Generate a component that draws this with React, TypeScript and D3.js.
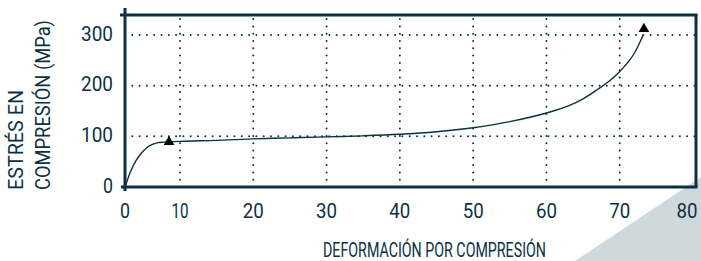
import React, { useRef, useEffect } from "react";
import * as d3 from "d3";

// strain (%) vs compressive stress (MPa)
const strain = [0, 0.5, 1, 2, 3, 4, 5, 6, 7, 8, 10, 15, 20, 25, 30, 35, 40, 45, 50, 55, 60, 63, 65, 67, 69, 70, 71, 72, 73.2];
const stress = [0, 16, 30, 52, 67, 78, 84, 87.5, 88.5, 89, 90, 92, 95, 97, 99, 101, 104, 109, 117, 129, 146, 160, 174, 193, 214, 228, 244, 264, 300];
const xTicks = [0, 10, 20, 30, 40, 50, 60, 70, 80];
const yTicks = [0, 100, 200, 300];
const xGrid = [10, 20, 30, 40, 50, 60, 70];
const yGrid = [100, 200, 300];
const arrowPts = [{ x: 8, y: 89 }, { x: 73.3, y: 312 }];

const ink = "#0c3142";
const font = "Roboto, 'Noto Sans', sans-serif";

const App: React.FC = () => {
  const svgRef = useRef<SVGSVGElement>(null);

  useEffect(() => {
    if (!svgRef.current) return;
    const svg = d3.select(svgRef.current);
    svg.selectAll("*").remove();

    // the axis is not linear between 0 and 10 in the source
    const x = d3.scaleLinear().domain([0, 10, 80]).range([125, 180, 693]);
    const y = d3.scaleLinear().domain([0, 300]).range([187, 35]);

    const left = 125, right = 696, top = 15, bottom = 187;

    // decorative corner
    svg.append("polygon").attr("points", "575,261 701,177 701,261").attr("fill", "#cfd8dc");

    // grid
    svg.append("g").selectAll("line").data(xGrid).join("line")
      .attr("x1", (d) => x(d)).attr("x2", (d) => x(d))
      .attr("y1", bottom).attr("y2", top)
      .attr("stroke", ink).attr("stroke-width", 2)
      .attr("stroke-linecap", "round").attr("stroke-dasharray", "0,7.3");
    svg.append("g").selectAll("line").data(yGrid).join("line")
      .attr("x1", left).attr("x2", right)
      .attr("y1", (d) => y(d)).attr("y2", (d) => y(d))
      .attr("stroke", ink).attr("stroke-width", 2)
      .attr("stroke-linecap", "round").attr("stroke-dasharray", "0,7.3");

    // frame
    svg.append("line").attr("x1", 120).attr("x2", right + 1.5).attr("y1", top).attr("y2", top)
      .attr("stroke", ink).attr("stroke-width", 3);
    svg.append("line").attr("x1", right).attr("x2", right).attr("y1", top).attr("y2", bottom)
      .attr("stroke", ink).attr("stroke-width", 3);
    svg.append("line").attr("x1", 121).attr("x2", right + 1.5).attr("y1", bottom).attr("y2", bottom)
      .attr("stroke", ink).attr("stroke-width", 3);
    svg.append("line").attr("x1", left).attr("x2", left).attr("y1", 8).attr("y2", 191)
      .attr("stroke", ink).attr("stroke-width", 3);

    // curve
    const line = d3.line<number>()
      .x((_, i) => x(strain[i]))
      .y((d) => y(d))
      .curve(d3.curveMonotoneX);
    svg.append("path").attr("d", line(stress) as string)
      .attr("fill", "none").attr("stroke", ink).attr("stroke-width", 1.4);

    // arrow heads
    const tri = d3.symbol().type(d3.symbolTriangle).size(50);
    svg.append("g").selectAll("path").data(arrowPts).join("path")
      .attr("d", tri() as string)
      .attr("transform", (d) => `translate(${x(d.x)},${y(d.y)})`)
      .attr("fill", "#000");

    // tick labels
    svg.append("g").selectAll("text").data(xTicks).join("text")
      .attr("x", (d) => (d === 80 ? x(d) - 6 : x(d))).attr("y", 218)
      .attr("text-anchor", "middle")
      .attr("font-family", font).attr("font-size", 20).attr("fill", ink)
      .attr("textLength", (d) => (d === 0 ? 10 : d === 10 ? 17 : 21))
      .attr("lengthAdjust", "spacingAndGlyphs")
      .text((d) => d);
    svg.append("g").selectAll("text").data(yTicks).join("text")
      .attr("x", 113).attr("y", (d) => y(d) + 5.5)
      .attr("text-anchor", "end")
      .attr("font-family", font).attr("font-size", 20).attr("fill", ink)
      .attr("textLength", (d) => (d === 0 ? 10 : 32))
      .attr("lengthAdjust", "spacingAndGlyphs")
      .text((d) => d);

    // titles
    svg.append("text").attr("x", 323).attr("y", 257)
      .attr("font-family", font).attr("font-size", 19.5).attr("fill", ink)
      .attr("textLength", 223).attr("lengthAdjust", "spacingAndGlyphs")
      .text("DEFORMACIÓN POR COMPRESIÓN");
    svg.append("text").attr("transform", "translate(23,190) rotate(-90)")
      .attr("font-family", font).attr("font-size", 20).attr("fill", ink)
      .attr("textLength", 100).attr("lengthAdjust", "spacingAndGlyphs")
      .text("ESTRÉS EN");
    svg.append("text").attr("transform", "translate(50,190) rotate(-90)")
      .attr("font-family", font).attr("font-size", 20).attr("fill", ink)
      .attr("textLength", 170).attr("lengthAdjust", "spacingAndGlyphs")
      .text("COMPRESIÓN (MPa)");
  }, []);

  return (
    <svg ref={svgRef} width={701} height={261}
      style={{ position: "absolute", left: 0, top: 0, background: "#fff" }} />
  );
};

export default App;
